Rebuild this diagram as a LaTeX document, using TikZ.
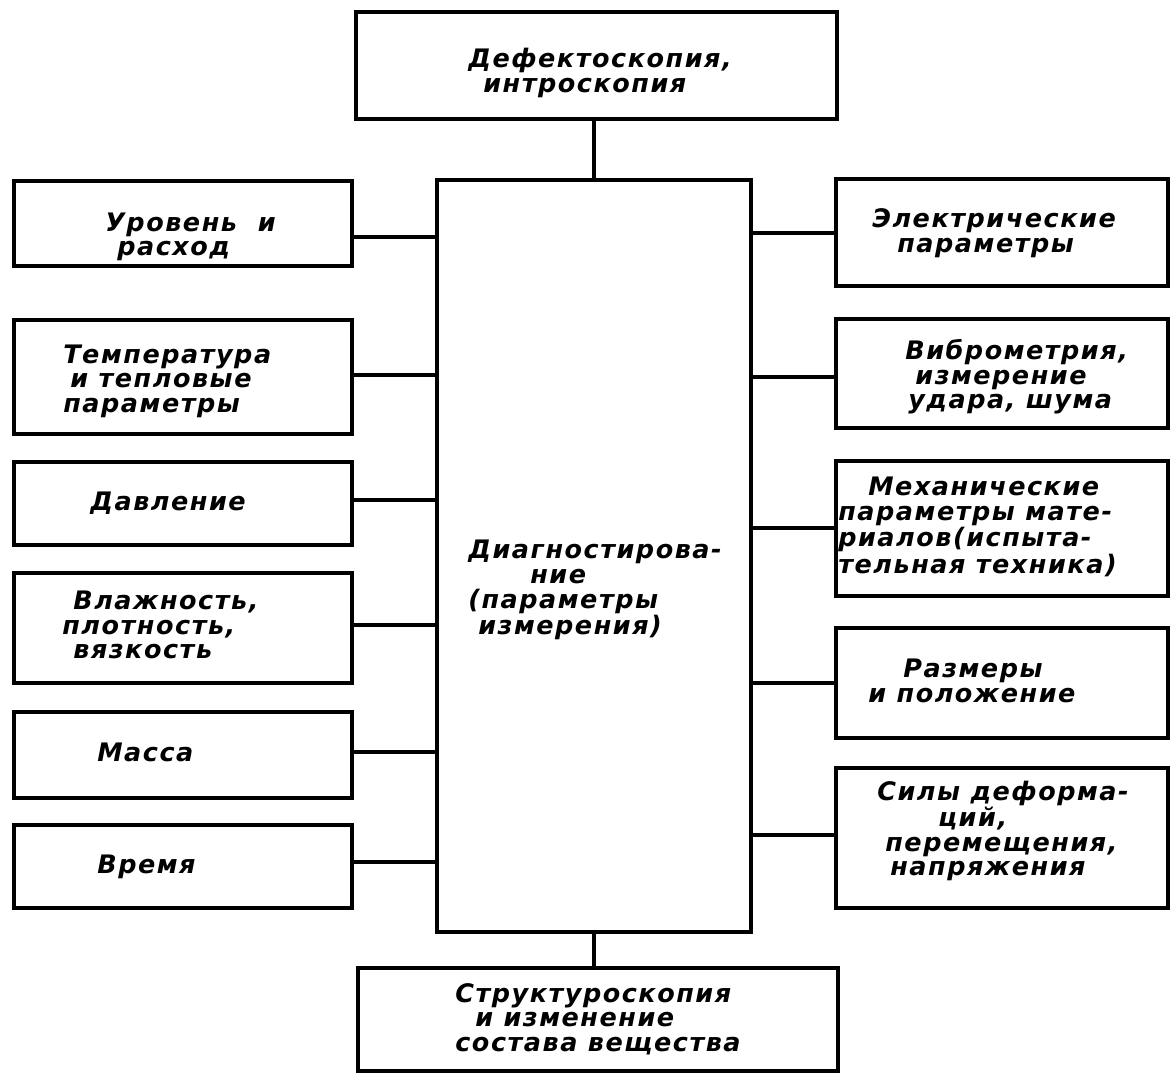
\documentclass[tikz,border=0pt]{standalone}
\usepackage{fontspec}
\usepackage{tikz}
\newfontfamily\stencil{DejaVu Sans}[LetterSpace=6]

\begin{document}
\begin{tikzpicture}[x=0.02cm, y=-0.02cm,
        blk/.style={draw, line width=2.7pt, inner sep=0pt},
        txt/.style={anchor=west, align=left, inner sep=0pt, font=\stencil\bfseries\itshape\fontsize{14.5}{14}\selectfont},
        wire/.style={line width=2.7pt}]
    \useasboundingbox (0,0) rectangle (1175,1076);
    % centre column
    \node[blk, minimum width=9.62cm, minimum height=2.14cm] (defect) at (596.5,65.5) {};
    \node[blk, minimum width=6.28cm, minimum height=15.04cm] (main) at (594,556) {};
    \node[blk, minimum width=9.6cm, minimum height=2.06cm] (struct) at (598,1019.5) {};
    % left column
    \node[blk, minimum width=6.76cm, minimum height=1.7cm] (lvl) at (183,223.5) {};
    \node[blk, minimum width=6.76cm, minimum height=2.28cm] (temp) at (183,377) {};
    \node[blk, minimum width=6.76cm, minimum height=1.66cm] (press) at (183,503.5) {};
    \node[blk, minimum width=6.76cm, minimum height=2.2cm] (hum) at (183,628) {};
    \node[blk, minimum width=6.76cm, minimum height=1.72cm] (mass) at (183,755) {};
    \node[blk, minimum width=6.76cm, minimum height=1.66cm] (time) at (183,866.5) {};
    % right column
    \node[blk, minimum width=6.64cm, minimum height=2.14cm] (el) at (1002,232.5) {};
    \node[blk, minimum width=6.64cm, minimum height=2.18cm] (vib) at (1002,373.5) {};
    \node[blk, minimum width=6.64cm, minimum height=2.7cm] (mech) at (1002,528.5) {};
    \node[blk, minimum width=6.64cm, minimum height=2.2cm] (size) at (1002,683) {};
    \node[blk, minimum width=6.64cm, minimum height=2.8cm] (force) at (1002,838) {};

    % labels
    \node[txt] (defect-t) at (468,73) {Дефектоскопия,\\\hspace*{0.3cm}интроскопия};
    \node[txt] (main-t) at (468,590) {Диагностирова-\\\hspace*{1.24cm}ние\\(параметры\\\hspace*{0.2cm}измерения)};
    \node[txt] (struct-t) at (455,1019) {Структуроскопия\\\hspace*{0.4cm}и изменение\\состава вещества};
    \node[txt] (lvl-t) at (105,237) {Уровень~ и\\\hspace*{0.24cm}расход};
    \node[txt] (temp-t) at (63,381) {Температура\\\hspace*{0.14cm}и тепловые\\параметры};
    \node[txt] (press-t) at (90,503) {Давление};
    \node[txt] (hum-t) at (62,625) {\hspace*{0.22cm}Влажность,\\плотность,\\\hspace*{0.22cm}вязкость};
    \node[txt] (mass-t) at (97,752) {Масса};
    \node[txt] (time-t) at (97,867) {Время};
    \node[txt] (el-t) at (872,233) {Электрические\\\hspace*{0.5cm}параметры};
    \node[txt] (vib-t) at (905,377) {Виброметрия,\\\hspace*{0.2cm}измерение\\\hspace*{0.06cm}удара, шума};
    \node[txt] (mech-t) at (838,527) {\hspace*{0.6cm}Механические\\параметры мате-\\риалов(испыта-\\тельная техника)};
    \node[txt] (size-t) at (868,681) {\hspace*{0.7cm}Размеры\\и положение};
    \node[txt] (force-t) at (877,831) {Силы деформа-\\\hspace*{1.22cm}ций,\\\hspace*{0.16cm}перемещения,\\\hspace*{0.26cm}напряжения};

    % connectors
    \draw[wire] (defect.south -| main.north) -- (main.north);
    \draw[wire] (main.south) -- (struct.north -| main.south);
    \foreach \n/\y in {lvl/237, temp/375, press/500, hum/625, mass/752, time/862}
        \draw[wire] (\n.east |- 0,\y) -- (main.west |- 0,\y);
    \foreach \n/\y in {el/233, vib/377, mech/528, size/683, force/835}
        \draw[wire] (main.east |- 0,\y) -- (\n.west |- 0,\y);
\end{tikzpicture}
\end{document}
